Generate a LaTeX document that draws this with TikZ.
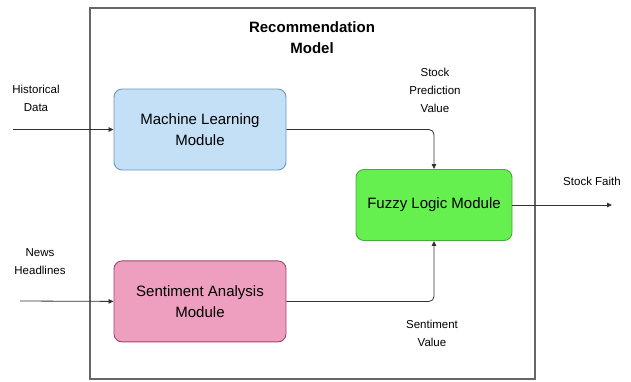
\documentclass[tikz,border=0pt]{standalone}
\usepackage{fontspec}
\setmainfont{Liberation Sans}
\usepackage{xcolor}
\usetikzlibrary{positioning,arrows.meta}

\definecolor{mlfill}{RGB}{196,224,246}
\definecolor{mldraw}{RGB}{110,150,200}
\definecolor{safill}{RGB}{238,158,190}
\definecolor{sadraw}{RGB}{160,70,110}
\definecolor{fzfill}{RGB}{102,240,80}
\definecolor{fzdraw}{RGB}{70,170,60}

\begin{document}
\begin{tikzpicture}[
    x=1pt, y=-1pt,
    module/.style={rectangle, rounded corners=8pt, line width=0.9pt, align=center,
                   font=\fontsize{15}{21}\selectfont, minimum width=172pt, minimum height=81pt},
    frame/.style={rectangle, draw=black!60, line width=1.2pt, minimum width=445pt, minimum height=371pt},
    title/.style={align=center, font=\bfseries\fontsize{15}{21}\selectfont},
    lbl/.style={align=center, font=\fontsize{11.5}{18}\selectfont},
    arr/.style={-{Triangle[length=5pt,width=4.5pt]}, line width=0.8pt, color=black!80, rounded corners=5pt}
]
\useasboundingbox (0,0) rectangle (631,381);

% Outer model box
\node[frame] (model) at (312.5,193.5) {};
\node[title] (title) at (312,38) {Recommendation\\Model};

% Modules
\node[module, draw=mldraw, fill=mlfill] (ml) at (200,129.5) {Machine Learning\\Module};
\node[module, draw=sadraw, fill=safill, below=90pt of ml] (sa) {Sentiment Analysis\\Module};
\node[module, draw=fzdraw, fill=fzfill, minimum width=156pt, minimum height=71pt] (fuzzy) at (434,205) {Fuzzy Logic Module};

% Inputs and output
\coordinate (hin) at (13,129.5);
\coordinate (nin) at (20,301);
\coordinate (out) at (612,205);

% Labels
\node[lbl] (hist) at (36,98) {Historical\\Data};
\node[lbl] (news) at (40,262) {News\\Headlines};
\node[lbl] (pred) at (435,90) {Stock\\Prediction\\Value};
\node[lbl] (sent) at (432,333) {Sentiment\\Value};
\node[lbl] (faith) at (592,181) {Stock Faith};

% Arrows
\draw[arr] (hin) -- (ml.west);
\draw[arr] (nin) -- (sa.west);
\draw[arr] (ml.east) -| (fuzzy.north);
\draw[arr] (sa.east) -| (fuzzy.south);
\draw[arr] (fuzzy.east) -- (out);

\end{tikzpicture}
\end{document}
